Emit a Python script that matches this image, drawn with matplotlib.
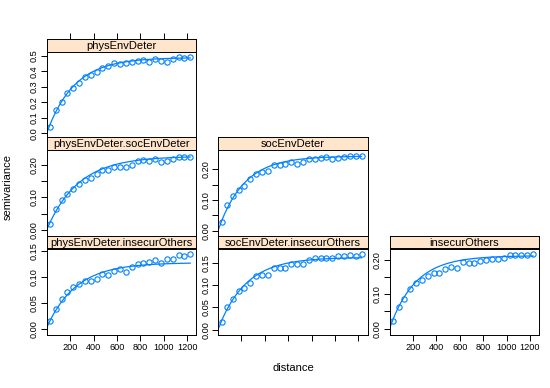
import numpy as np
import matplotlib.pyplot as plt

plt.rcParams['font.family'] = ['Liberation Sans', 'DejaVu Sans']

# mean distance of each lag bin
dist = [30, 77, 127, 176, 226, 276, 326, 376, 426, 476, 526, 576, 626,
        676, 726, 776, 826, 876, 926, 976, 1026, 1076, 1126, 1176, 1226]

# sample semivariances
g_phys = [0.043, 0.148, 0.204, 0.257, 0.293, 0.328, 0.361, 0.374, 0.393, 0.424,
          0.435, 0.452, 0.446, 0.452, 0.459, 0.470, 0.474, 0.463, 0.480, 0.467,
          0.463, 0.478, 0.491, 0.489, 0.491]
g_phys_soc = [0.017, 0.063, 0.092, 0.109, 0.124, 0.142, 0.154, 0.159, 0.170, 0.185,
              0.183, 0.192, 0.192, 0.193, 0.198, 0.210, 0.214, 0.211, 0.216, 0.208,
              0.212, 0.216, 0.223, 0.225, 0.225]
g_soc = [0.027, 0.085, 0.112, 0.133, 0.146, 0.167, 0.185, 0.192, 0.195, 0.212,
         0.213, 0.215, 0.222, 0.218, 0.223, 0.233, 0.234, 0.235, 0.238, 0.233,
         0.237, 0.240, 0.244, 0.244, 0.244]
g_phys_ins = [0.015, 0.038, 0.057, 0.072, 0.080, 0.086, 0.092, 0.092, 0.095, 0.105,
              0.103, 0.111, 0.114, 0.110, 0.119, 0.125, 0.126, 0.128, 0.132, 0.127,
              0.134, 0.134, 0.141, 0.140, 0.144]
g_soc_ins = [0.018, 0.051, 0.069, 0.087, 0.095, 0.105, 0.121, 0.123, 0.124, 0.138,
             0.139, 0.139, 0.149, 0.147, 0.149, 0.156, 0.161, 0.162, 0.162, 0.161,
             0.166, 0.166, 0.169, 0.167, 0.170]
g_ins = [0.021, 0.062, 0.087, 0.114, 0.132, 0.141, 0.154, 0.161, 0.162, 0.174,
         0.179, 0.176, 0.193, 0.191, 0.191, 0.196, 0.200, 0.203, 0.202, 0.206,
         0.213, 0.213, 0.214, 0.214, 0.218]

# fitted exponential models: (nugget, partial sill, range)
models = [(0.0, 0.490, 235), (0.0, 0.226, 270), (0.0, 0.242, 220),
          (0.003, 0.124, 250), (0.0, 0.163, 235), (0.0, 0.212, 220)]

names = ['physEnvDeter', 'physEnvDeter.socEnvDeter', 'socEnvDeter',
         'physEnvDeter.insecurOthers', 'socEnvDeter.insecurOthers', 'insecurOthers']
gammas = [g_phys, g_phys_soc, g_soc, g_phys_ins, g_soc_ins, g_ins]

# layout: (row, col, ylim, yticks, labelled yticks, fmt)
t5 = [0, 0.05, 0.10, 0.15, 0.20]
panels = [
    (0, 0, (-0.028, 0.529), [0, .1, .2, .3, .4, .5], [0, .1, .2, .3, .4, .5], '%.1f'),
    (1, 0, (-0.019, 0.245), t5, [0, .1, .2], '%.2f'),
    (1, 1, (-0.017, 0.262), t5, [0, .1, .2], '%.2f'),
    (2, 0, (-0.010, 0.154), t5[:4], t5[:4], '%.2f'),
    (2, 1, (-0.011, 0.183), t5[:4], t5[:4], '%.2f'),
    (2, 2, (-0.017, 0.233), t5, [0, .1, .2], '%.2f'),
]

W, H = 550, 388
col_x = [46.7, 218, 389.5]
col_w = 149.5
row_top = [39, 137.5, 236]
row_h = 98.5
strip_h = 12.5
xmax = 1277
xt = [200, 400, 600, 800, 1000, 1200]
blue = '#0080ff'


def rect(x0, top, w, h):
    return [x0 / W, 1 - (top + h) / H, w / W, h / H]


fig = plt.figure(figsize=(5.5, 3.88), dpi=100)

for i, (r, c, ylim, yt, ylab, fmt) in enumerate(panels):
    st = fig.add_axes(rect(col_x[c], row_top[r], col_w, strip_h))
    st.set_facecolor('#ffe5cc')
    st.set_xlim(0, xmax)
    st.set_yticks([])
    st.text(0.5, 0.45, names[i], transform=st.transAxes, ha='center', va='center', fontsize=8)
    if r == 0:
        st.xaxis.tick_top()
        st.set_xticks(xt)
        st.set_xticklabels([])
        st.tick_params(axis='x', length=4, width=0.7, direction='out')
    else:
        st.set_xticks([])
    for s in st.spines.values():
        s.set_linewidth(0.7)

    ax = fig.add_axes(rect(col_x[c], row_top[r] + strip_h, col_w, row_h - strip_h))
    n, ps, a = models[i]
    h = np.linspace(0, dist[-1], 200)
    ax.plot(h, n + ps * (1 - np.exp(-h / a)), color=blue, lw=0.9)
    ax.plot(dist, gammas[i], 'o', mfc='none', mec=blue, ms=3.8, mew=0.8)
    ax.set_xlim(0, xmax)
    ax.set_ylim(*ylim)
    ax.set_yticks(yt)
    ax.set_yticklabels([fmt % v if any(abs(v - l) < 1e-9 for l in ylab) else '' for v in yt],
                       rotation=90, va='center', fontsize=6.6)
    ax.tick_params(axis='y', length=4, width=0.7, pad=1.5)
    if r == 2:
        ax.set_xticks(xt)
        ax.set_xticklabels([str(v) for v in xt] if c != 1 else [], fontsize=6.6)
        ax.tick_params(axis='x', length=4, width=0.7, pad=2)
    else:
        ax.set_xticks([])
    for s in ax.spines.values():
        s.set_linewidth(0.7)

fig.text(8 / W, 1 - 187 / H, 'semivariance', rotation=90, ha='center', va='center', fontsize=8)
fig.text(293 / W, 1 - 368 / H, 'distance', ha='center', va='center', fontsize=8)

fig.savefig('out.png', dpi=100)
